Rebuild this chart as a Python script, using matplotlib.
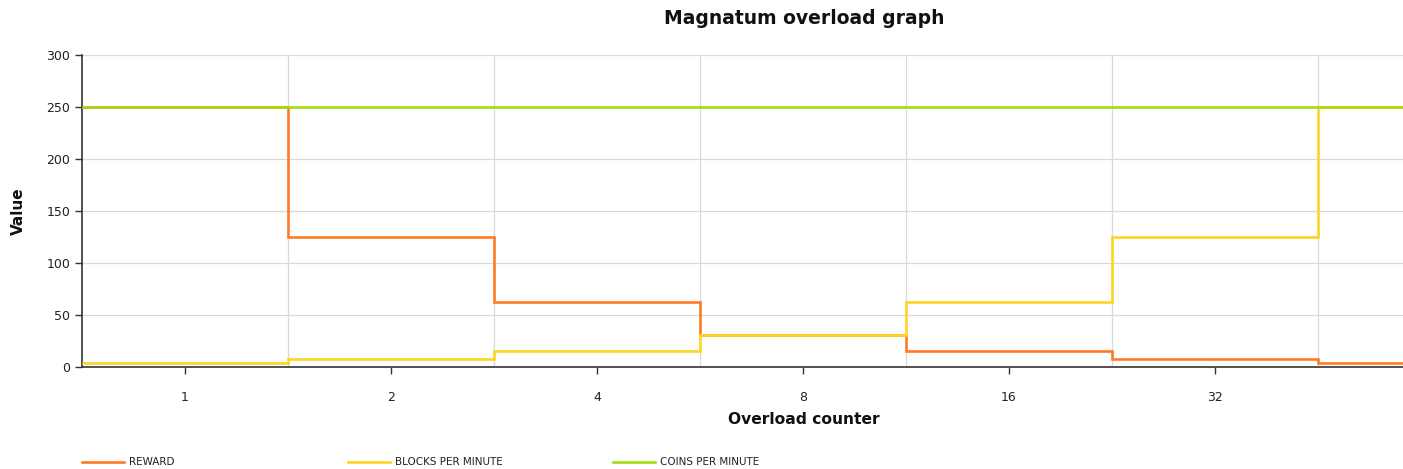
import matplotlib.pyplot as plt
import numpy as np

# overload counter categories (last one is cut off by the chart edge)
categories = ["1", "2", "4", "8", "16", "32", "64"]
reward = [250, 125, 62.5, 31.25, 15.6, 7.8, 3.9]
blocks_per_minute = [3.9, 7.8, 15.6, 31.25, 62.5, 125, 250]
coins_per_minute = [250, 250, 250, 250, 250, 250, 250]

c_reward = "#ff7a22"
c_blocks = "#ffd51f"
c_coins = "#a8dc10"

fig = plt.figure(figsize=(14.03, 4.69), dpi=100)
ax = fig.add_axes([82 / 1403, 1 - 367 / 469, 1 - 82 / 1403, (367 - 55) / 469])

edges = np.arange(len(categories) + 1) - 0.5
ax.stairs(reward, edges, color=c_reward, linewidth=1.9, baseline=None, zorder=3)
ax.stairs(blocks_per_minute, edges, color=c_blocks, linewidth=1.9, baseline=None, zorder=3)
ax.stairs(coins_per_minute, edges, color=c_coins, linewidth=1.9, baseline=None, zorder=4)

ax.set_yticks(np.arange(0, 301, 50))
ax.set_xticks(range(len(categories)))
ax.set_xticklabels(categories)
# limits after the ticks, otherwise set_xticks widens the view
ax.set_xlim(-0.5, (1403 - 82) / 206 - 0.5)
ax.set_ylim(0, 300)

# gridlines sit on category boundaries, ticks at centres
for e in edges[1:-1]:
    ax.axvline(e, color="#d9d9d9", linewidth=0.9, zorder=1)
ax.yaxis.grid(True, color="#d9d9d9", linewidth=0.9, zorder=1)
ax.set_axisbelow(True)

for s in ["top", "right"]:
    ax.spines[s].set_visible(False)
for s in ["left", "bottom"]:
    ax.spines[s].set_color("#333333")
    ax.spines[s].set_linewidth(1.2)
ax.tick_params(axis="both", colors="#333333", labelsize=9, length=5, width=1)
ax.tick_params(axis="x", pad=12)
for lbl in ax.get_xticklabels() + ax.get_yticklabels():
    lbl.set_color("#222222")

fig.text(804 / 1403, 1 - 19 / 469, "Magnatum overload graph", ha="center", va="center",
         fontsize=13.5, fontweight="bold", color="#111111")
fig.text(804 / 1403, 1 - 419 / 469, "Overload counter", ha="center", va="center",
         fontsize=11.2, fontweight="bold", color="#111111")
fig.text(18 / 1403, 1 - 211 / 469, "Value", ha="center", va="center", rotation=90,
         fontsize=11, fontweight="bold", color="#111111")

# legend along the bottom
legend_items = [("REWARD", c_reward, 82), ("BLOCKS PER MINUTE", c_blocks, 348),
                ("COINS PER MINUTE", c_coins, 613)]
ly = 1 - 462 / 469
for name, col, x0 in legend_items:
    fig.add_artist(plt.Line2D([x0 / 1403, (x0 + 42) / 1403], [ly, ly], color=col, linewidth=1.9))
    fig.text((x0 + 47) / 1403, ly, name, ha="left", va="center", fontsize=7.5, color="#222222")

fig.savefig("out.png", dpi=100)
